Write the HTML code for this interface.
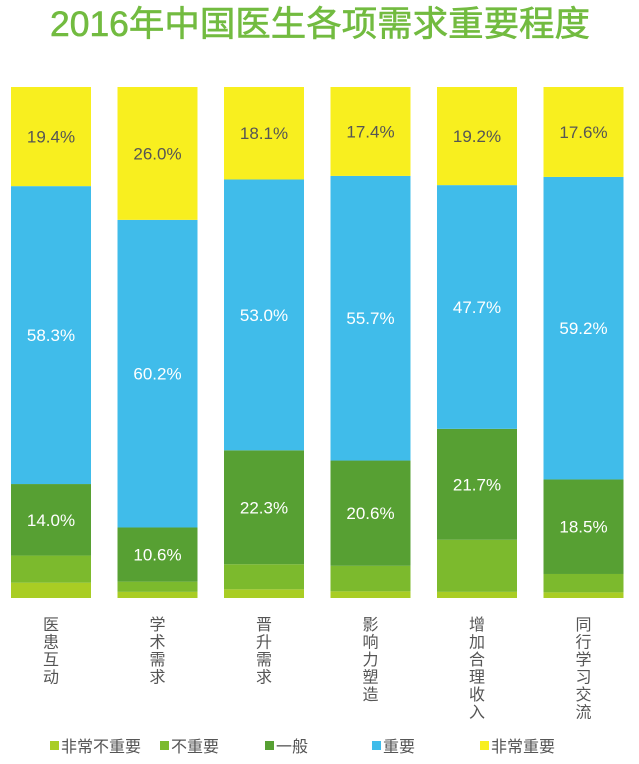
<!DOCTYPE html>
<html><head><meta charset="utf-8"><style>
body{margin:0;background:#fff}
svg{display:block}
text{font-family:"Liberation Sans","Noto Sans CJK SC",sans-serif}
</style></head><body>
<svg id="c" width="639" height="764" viewBox="0 0 639 764">
<text x="320" y="36" text-anchor="middle" font-size="35" fill="#72bb40" stroke="#72bb40" stroke-width="0.6" textLength="540" lengthAdjust="spacingAndGlyphs">2016年中国医生各项需求重要程度</text>
<g id="bars"></g>
<g id="legend"></g>
</svg>
<script>
const categories=["医患互动","学术需求","晋升需求","影响力塑造","增加合理收入","同行学习交流"];
const seriesNames=["非常不重要","不重要","一般","重要","非常重要"];
const veryUnimportant=[3.0,1.2,1.7,1.3,1.2,1.1];
const unimportant=[5.3,2.0,4.9,5.0,10.2,3.6];
const neutral=[14.0,10.6,22.3,20.6,21.7,18.5];
const important=[58.3,60.2,53.0,55.7,47.7,59.2];
const veryImportant=[19.4,26.0,18.1,17.4,19.2,17.6];
const labelShown=[false,false,true,true,true];
const colors=["#a9cd24","#7cba2d","#57a033","#40bcea","#f8ef1f"];
const series=[veryUnimportant,unimportant,neutral,important,veryImportant];
const NS="http://www.w3.org/2000/svg";
const top0=87,bottom0=598,left0=11,step=106.5,bw=80;
function y(v){return bottom0-(bottom0-top0)*v/100;}
function x(i){return left0+i*step;}
const g=document.getElementById('bars');
categories.forEach((c,i)=>{
  let cum=0;
  series.forEach((s,k)=>{
    const v=s[i];
    const r=document.createElementNS(NS,'rect');
    r.setAttribute('x',x(i));r.setAttribute('width',bw);
    r.setAttribute('y',y(cum+v));r.setAttribute('height',y(cum)-y(cum+v));
    r.setAttribute('fill',colors[k]);
    
    
    g.appendChild(r);
    if(labelShown[k]){
      const t=document.createElementNS(NS,'text');
      t.setAttribute('x',x(i)+bw/2);t.setAttribute('y',(y(cum)+y(cum+v))/2+6);
      t.setAttribute('text-anchor','middle');t.setAttribute('font-size','17');
      t.setAttribute('fill',k===4?'#555':'#fff');
      t.textContent=v.toFixed(1)+'%';
      
      
      g.appendChild(t);
    }
    cum+=v;
  });
  [...c].forEach((ch,j)=>{
    const t=document.createElementNS(NS,'text');
    t.setAttribute('x',x(i)+bw/2);t.setAttribute('y',630+j*17.5);
    t.setAttribute('text-anchor','middle');t.setAttribute('font-size','16');t.setAttribute('fill','#555');
    t.textContent=ch;
    
    
    g.appendChild(t);
  });
});
const lg=document.getElementById('legend');
const lx=[50,160,265,372,480];
seriesNames.forEach((n,k)=>{
  const r=document.createElementNS(NS,'rect');
  r.setAttribute('x',lx[k]);r.setAttribute('y',741);r.setAttribute('width',9);r.setAttribute('height',9);
  r.setAttribute('fill',colors[k]);
  
  
  lg.appendChild(r);
  const t=document.createElementNS(NS,'text');
  t.setAttribute('x',lx[k]+11);t.setAttribute('y',752);t.setAttribute('font-size','16');t.setAttribute('fill','#555');
  t.textContent=n;
  
  
  lg.appendChild(t);
});
</script>
</body></html>
